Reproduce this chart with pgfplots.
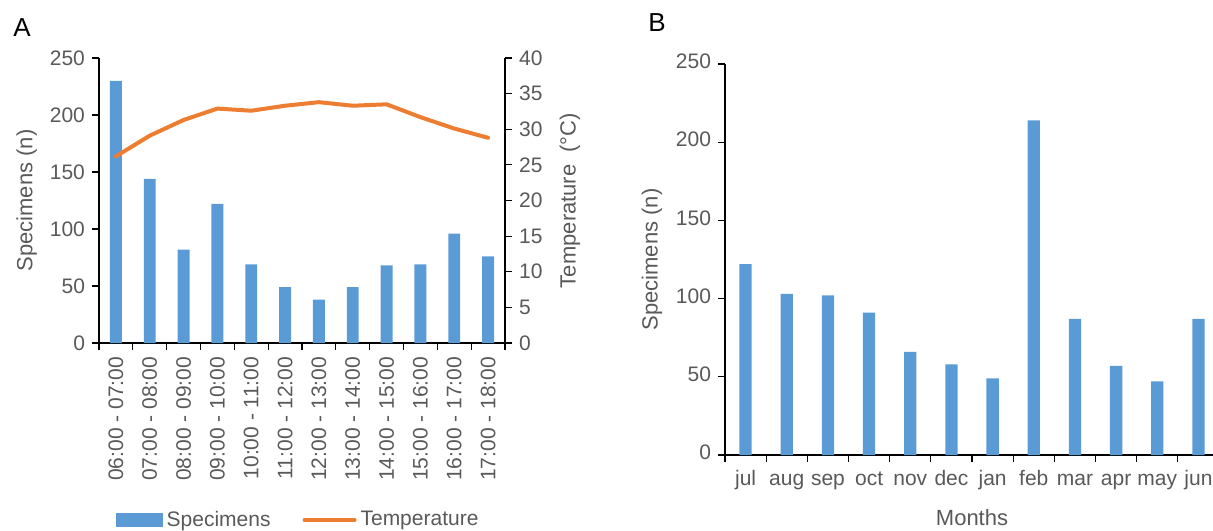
\documentclass[border=0pt]{standalone}
\usepackage{pgfplots}
\pgfplotsset{compat=1.18}
\usepackage{fontspec}
\setmainfont{Liberation Sans}
\definecolor{barblue}{HTML}{5B9BD5}
\definecolor{lineorange}{HTML}{ED7D31}
\definecolor{txtgrey}{HTML}{595959}

\begin{document}
\begin{tikzpicture}
\useasboundingbox (0pt,0pt) rectangle (606.5pt,265pt);
\pgfplotsset{
  common/.style={
    scale only axis,
    tick align=outside,
    major tick length=3.5pt,
    ticklabel style={font=\fontsize{10.5}{12}\selectfont, text=txtgrey},
    label style={font=\fontsize{11}{13}\selectfont, text=txtgrey},
    /pgf/number format/assume math mode=true,
    axis line style={black, line width=0.6pt},
    tick style={black, line width=0.6pt},
  }
}
\node[anchor=base west, font=\fontsize{13}{15}\selectfont, inner sep=0pt] at (6.5pt,246.5pt) {A};
\node[anchor=base west, font=\fontsize{13}{15}\selectfont, inner sep=0pt] at (324pt,249pt) {B};
% ---------- A: specimens (left axis)
\begin{axis}[common, at={(49.5pt,93.5pt)}, anchor=south west, width=203pt, height=142.5pt,
  xmin=0.5, xmax=12.5, ymin=0, ymax=250,
  axis x line*=bottom, axis y line*=left,
  xtick={0.5,1.5,...,12.5}, x tick label as interval,
  xticklabels={06:00 - 07:00,07:00 - 08:00,08:00 - 09:00,09:00 - 10:00,10:00 - 11:00,11:00 - 12:00,12:00 - 13:00,13:00 - 14:00,14:00 - 15:00,15:00 - 16:00,16:00 - 17:00,17:00 - 18:00},
  x tick label style={rotate=90, anchor=east},
  ytick={0,50,...,250},
  ylabel={Specimens (n)},
  ylabel style={at={(axis description cs:-0.178,0.5)}, anchor=center},
]
\addplot[ybar, bar width=5.95pt, fill=barblue, draw=none] coordinates {
(1,230) (2,144) (3,82) (4,122) (5,69) (6,49) (7,38) (8,49) (9,68) (10,69) (11,96) (12,76)};
\end{axis}
% ---------- A: temperature (right axis)
\begin{axis}[common, at={(49.5pt,93.5pt)}, anchor=south west, width=203pt, height=142.5pt,
  xmin=0.5, xmax=12.5, ymin=0, ymax=40,
  axis x line=none, axis y line*=right,
  ytick={0,5,...,40},
  ylabel={Temperature\ \ (°C)},
  ylabel style={at={(axis description cs:1.160,0.5)}, anchor=center},
  legend style={at={(axis description cs:0.493,-0.621)}, anchor=center, draw=none, fill=none,
    font=\fontsize{10.5}{12}\selectfont, text=txtgrey,
    /tikz/every even column/.append style={column sep=14pt}},
  legend columns=2,
]
\addlegendimage{legend image code/.code={\fill[barblue] (0pt,-3.3pt) rectangle (23pt,3.3pt);}}
\addlegendentry{Specimens}
\addplot[lineorange, line width=2pt, line join=round, line cap=round,
  legend image code/.code={\draw[lineorange, line width=2pt] (0pt,0pt) -- (25pt,0pt);}] coordinates {
(1,26.2) (2,29.1) (3,31.3) (4,32.9) (5,32.6) (6,33.3) (7,33.8) (8,33.3) (9,33.5) (10,31.7) (11,30.1) (12,28.8)};
\addlegendentry{Temperature}
\end{axis}
% ---------- B
\begin{axis}[common, at={(362.5pt,37.5pt)}, anchor=south west, width=247pt, height=195.5pt,
  xmin=0.5, xmax=12.5, ymin=0, ymax=250,
  axis x line*=bottom, axis y line*=left,
  xtick={0.5,1.5,...,12.5}, x tick label as interval,
  xticklabels={jul,aug,sep,oct,nov,dec,jan,feb,mar,apr,may,jun},
  typeset ticklabels with strut,
  ytick={0,50,...,250},
  ylabel={Specimens (n)},
  ylabel style={at={(axis description cs:-0.148,0.5)}, anchor=center},
  xlabel={Months},
  xlabel style={at={(axis description cs:0.5,-0.159)}, anchor=center},
]
\addplot[ybar, bar width=6.15pt, fill=barblue, draw=none] coordinates {
(1,122) (2,103) (3,102) (4,91) (5,66) (6,58) (7,49) (8,214) (9,87) (10,57) (11,47) (12,87)};
\end{axis}
\end{tikzpicture}
\end{document}
